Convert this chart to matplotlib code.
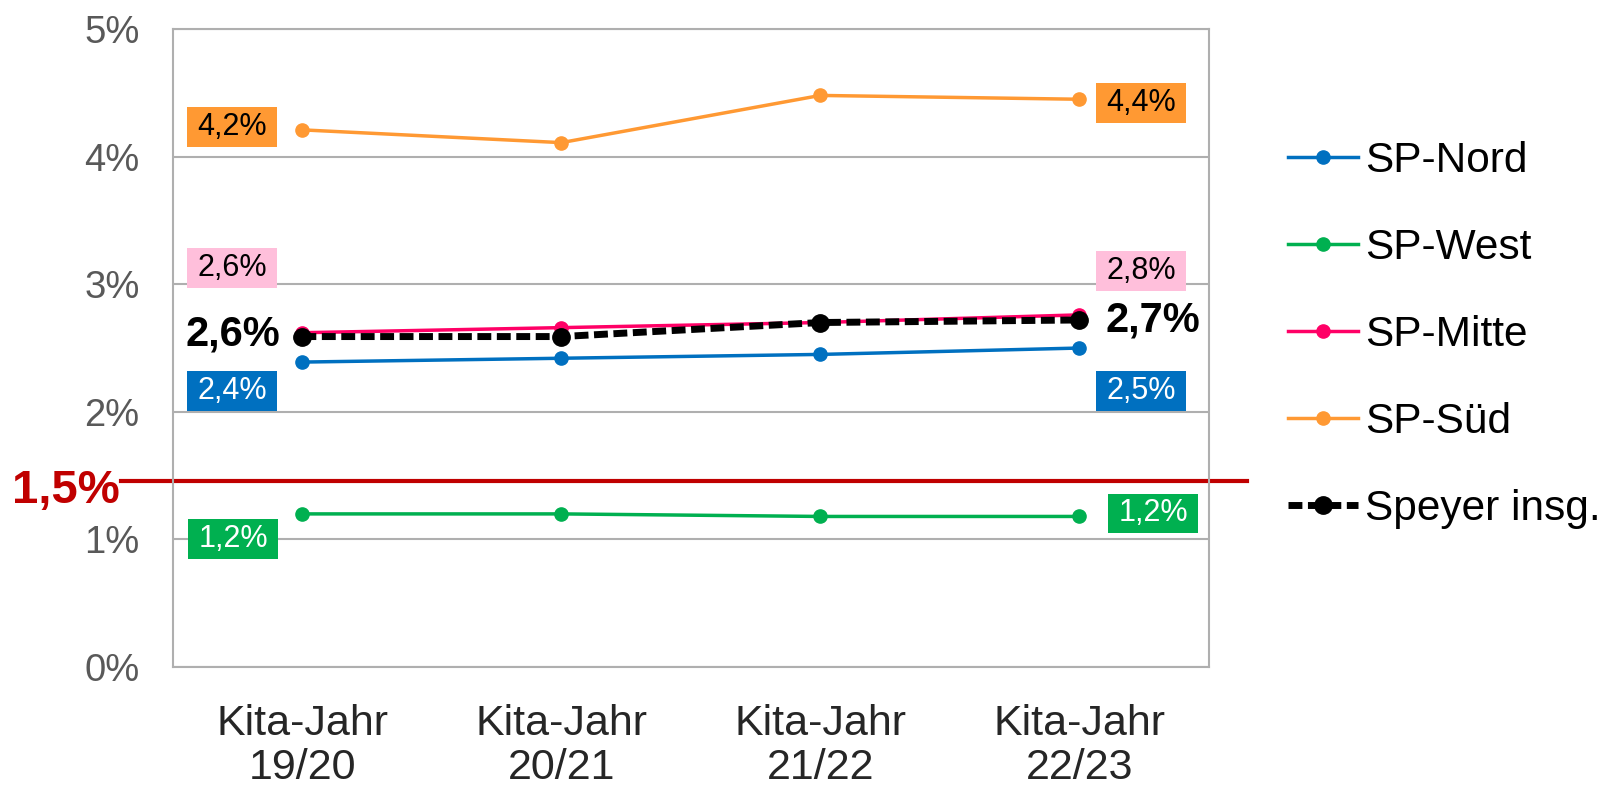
import matplotlib.pyplot as plt
from matplotlib.path import Path

plt.rcParams['font.family'] = ['Liberation Sans', 'DejaVu Sans']

years = ['Kita-Jahr\n19/20', 'Kita-Jahr\n20/21', 'Kita-Jahr\n21/22', 'Kita-Jahr\n22/23']
nord = [2.39, 2.42, 2.45, 2.50]
west = [1.20, 1.20, 1.18, 1.18]
mitte = [2.62, 2.66, 2.70, 2.76]
sued = [4.21, 4.11, 4.48, 4.45]
speyer = [2.59, 2.59, 2.70, 2.72]
threshold = 1.46

first_labels = {'nord': '2,4%', 'west': '1,2%', 'mitte': '2,6%', 'sued': '4,2%', 'speyer': '2,6%'}
last_labels = {'nord': '2,5%', 'west': '1,2%', 'mitte': '2,8%', 'sued': '4,4%', 'speyer': '2,7%'}

c_nord = '#0070C0'
c_west = '#00B050'
c_mitte = '#FF0066'
c_sued = '#FF9933'
c_pink = '#FFBFDB'
c_red = '#C00000'
c_grid = '#AFAFAF'


def wide_box(x0, y0, width, height, mutation_size):
    # rectangle with more padding left/right than top/bottom
    px = 0.33 * mutation_size
    py = 0.16 * mutation_size
    return Path([(x0 - px, y0 - py), (x0 + width + px, y0 - py),
                 (x0 + width + px, y0 + height + py), (x0 - px, y0 + height + py),
                 (x0 - px, y0 - py)], closed=True)


fig = plt.figure(figsize=(16.16, 7.86), dpi=100)
ax = fig.add_axes([0.107, 0.1514, 0.641, 0.8116])

x = list(range(len(years)))
ax.plot(x, nord, color=c_nord, lw=2.5, marker='o', ms=9.5, label='SP-Nord', zorder=3)
ax.plot(x, west, color=c_west, lw=2.5, marker='o', ms=9.5, label='SP-West', zorder=3)
ax.plot(x, mitte, color=c_mitte, lw=2.5, marker='o', ms=9.5, label='SP-Mitte', zorder=3)
ax.plot(x, sued, color=c_sued, lw=2.5, marker='o', ms=9.5, label='SP-Süd', zorder=3)
ax.plot(x, speyer, color='black', lw=5, ls=(0, (2, 0.8)), marker='o', ms=12.5,
        label='Speyer insg.', zorder=4)

# threshold line reaching beyond the plot area
tr = ax.get_yaxis_transform()
ax.plot([-0.05, 1.037], [threshold, threshold], color=c_red, lw=3, transform=tr,
        clip_on=False, zorder=2)
ax.annotate('1,5%', xy=(-0.103, threshold), xycoords=tr, xytext=(0, -10),
            textcoords='offset pixels', ha='center', va='center',
            fontsize=34, fontweight='bold', color=c_red, annotation_clip=False)


def box_label(xi, yi, text, dx, dy, fc, tc):
    ax.annotate(text, xy=(xi, yi), xytext=(dx, dy), textcoords='offset pixels',
                ha='center', va='center', fontsize=22, color=tc, zorder=5,
                bbox=dict(boxstyle=wide_box, fc=fc, ec='none'))


last = len(years) - 1
box_label(0, sued[0], first_labels['sued'], -70, 3, c_sued, 'black')
box_label(last, sued[last], last_labels['sued'], 62, -4, c_sued, 'black')
box_label(0, mitte[0], first_labels['mitte'], -70, 65, c_pink, 'black')
box_label(last, mitte[last], last_labels['mitte'], 62, 44, c_pink, 'black')
box_label(0, nord[0], first_labels['nord'], -70, -29, c_nord, 'white')
box_label(last, nord[last], last_labels['nord'], 62, -43, c_nord, 'white')
box_label(0, west[0], first_labels['west'], -69, -25, c_west, 'white')
box_label(last, west[last], last_labels['west'], 74, 3, c_west, 'white')

ax.annotate(first_labels['speyer'], xy=(0, speyer[0]), xytext=(-70, 2),
            textcoords='offset pixels', ha='center', va='center',
            fontsize=30, fontweight='bold', color='black')
ax.annotate(last_labels['speyer'], xy=(last, speyer[last]), xytext=(74, -1),
            textcoords='offset pixels', ha='center', va='center',
            fontsize=30, fontweight='bold', color='black')

ax.set_xlim(-0.5, len(years) - 0.5)
ax.set_ylim(0, 5)
ax.set_yticks([0, 1, 2, 3, 4, 5])
ax.set_yticklabels(['0%', '1%', '2%', '3%', '4%', '5%'])
ax.set_xticks(x)
ax.set_xticklabels(years, linespacing=1.1)
ax.tick_params(axis='y', length=0, pad=24, labelsize=27.5, labelcolor='#595959')
ax.tick_params(axis='x', length=0, pad=27, labelsize=31, labelcolor='#262626')
ax.grid(axis='y', color=c_grid, lw=1.5)
ax.set_axisbelow(True)
for s in ax.spines.values():
    s.set_color(c_grid)
    s.set_linewidth(1.5)

ax.legend(loc='center left', bbox_to_anchor=(0.797, 0.574), bbox_transform=fig.transFigure,
          frameon=False, fontsize=30.5, handlelength=1.65, handletextpad=0.18,
          labelspacing=1.11, borderpad=0, borderaxespad=0)

fig.savefig('out.png', dpi=100)
